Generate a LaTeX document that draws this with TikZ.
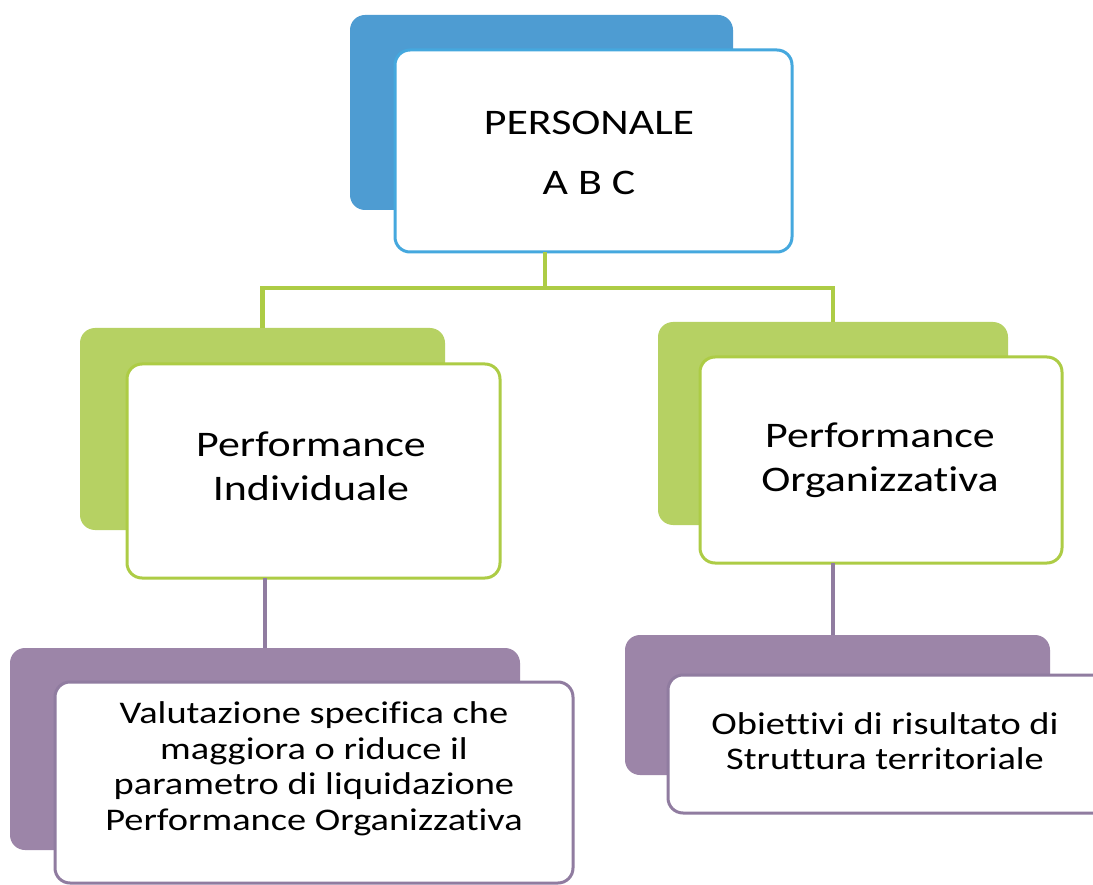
\documentclass[tikz,border=0pt]{standalone}
\usepackage{fontspec}
\setmainfont{Carlito}[FakeStretch=1.22, Ligatures={NoCommon}]
\definecolor{bluefill}{HTML}{4E9CD2}
\definecolor{blueline}{HTML}{45A8DE}
\definecolor{greenfill}{HTML}{B6D163}
\definecolor{greenline}{HTML}{ADCC45}
\definecolor{purplefill}{HTML}{9C85A8}
\definecolor{purpleline}{HTML}{907CA0}
\begin{document}
\begin{tikzpicture}[x=1pt,y=-1pt,
  backbox/.style={draw=none, fill=#1, rounded corners=15pt, inner sep=0pt, outer sep=0pt},
  frontbox/.style={draw=#1, line width=3pt, fill=white, rounded corners=15pt, inner sep=0pt, outer sep=0pt},
  conn/.style={draw=#1, line width=4.5pt},
  bigtext/.style={align=center, inner sep=0pt, font=\fontsize{36}{60}\selectfont},
  midtext/.style={align=center, inner sep=0pt, font=\fontsize{36}{44}\selectfont},
  smalltext/.style={align=center, inner sep=0pt, font=\fontsize{31.5}{35.5}\selectfont}]
\useasboundingbox[fill=white] (0,0) rectangle (1093,885);
% top
\node[backbox=bluefill, minimum width=383pt, minimum height=195pt] (pb) at (541.5,112.5) {};
\node[frontbox=blueline, minimum width=397pt, minimum height=202pt] (pf) at (593.5,151) {};
\node[bigtext] (pt) at (589,153) {PERSONALE\\A B C};
% green
\node[backbox=greenfill, minimum width=365pt, minimum height=202pt] (glb) at (262.5,429) {};
\node[frontbox=greenline, minimum width=373pt, minimum height=214pt] (glf) at (313.5,471) {};
\node[midtext] (glt) at (311,466) {Performance\\Individuale};
\node[backbox=greenfill, minimum width=350pt, minimum height=203pt] (grb) at (833,423.5) {};
\node[frontbox=greenline, minimum width=362pt, minimum height=206pt] (grf) at (881,460) {};
\node[midtext] (grt) at (880,460) {Performance\\Organizzativa};
% purple
\node[backbox=purplefill, minimum width=510pt, minimum height=202pt] (plb) at (265,749) {};
\node[frontbox=purpleline, minimum width=518pt, minimum height=201pt] (plf) at (314,782.5) {};
\node[smalltext] (plt) at (314,769) {Valutazione specifica che\\maggiora o riduce il\\parametro di liquidazione\\Performance Organizzativa};
\node[backbox=purplefill, minimum width=425pt, minimum height=140pt] (prb) at (837.5,705) {};
\node[frontbox=purpleline, minimum width=442pt, minimum height=138pt] (prf) at (889,744) {};
\node[smalltext] (prt) at (885,741) {Obiettivi di risultato di\\Struttura territoriale};
% connectors
\coordinate (bus) at (545,288);
\draw[conn=greenline] (pf.south -| bus) -- (bus);
\draw[conn=greenline] (glb.north) |- (bus) -| (grb.north);
\draw[conn=purpleline] (plb.north |- glf.south) -- (plb.north);
\draw[conn=purpleline] (grb.north |- grf.south) -- (grb.north |- prb.north);
\end{tikzpicture}
\end{document}
